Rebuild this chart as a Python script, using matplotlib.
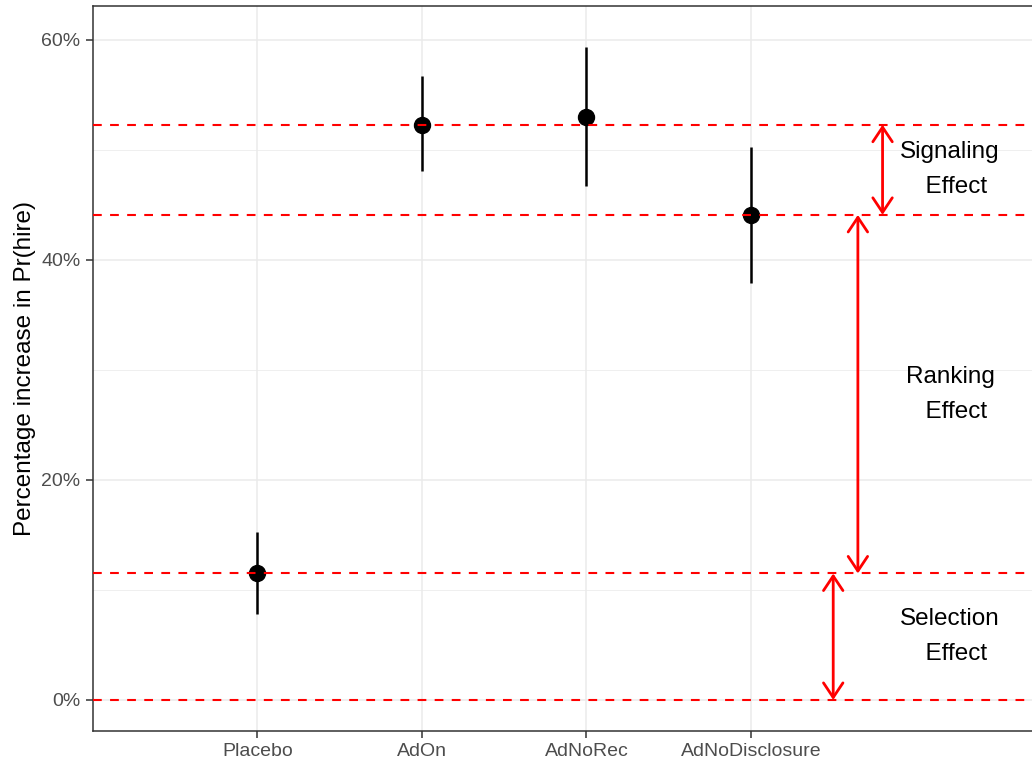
import matplotlib
matplotlib.use("Agg")
import matplotlib.pyplot as plt
import numpy as np

plt.rcParams['font.family'] = ['Liberation Sans', 'DejaVu Sans']

# Treatment arms and estimated effects (percent)
arms = ["Placebo", "AdOn", "AdNoRec", "AdNoDisclosure"]
estimate = [11.5, 52.3, 53.0, 44.1]
ci_low = [7.8, 48.1, 46.7, 37.9]
ci_high = [15.3, 56.7, 59.4, 50.3]

# Reference levels for the decomposition
ref_levels = [52.3, 44.1, 11.5, 0.0]

# Decomposition brackets: (label, x position, lower, upper)
effect_labels = ["Signaling\n  Effect", "Ranking\n  Effect", "Selection\n  Effect"]
effect_x = [4.8, 4.65, 4.5]
effect_low = [44.1, 11.5, 0.0]
effect_high = [52.3, 44.1, 11.5]
label_x = 5.2

W, H = 1032, 763
fig = plt.figure(figsize=(W / 100, H / 100), dpi=100)
ax = fig.add_axes([93 / W, 32 / H, 970.5 / W, 725 / H])

xpos = np.arange(1, len(arms) + 1)

# Grid
for y in [10, 30, 50]:
    ax.axhline(y, color="#EBEBEB", lw=0.55, zorder=0)
for y in [0, 20, 40, 60]:
    ax.axhline(y, color="#EBEBEB", lw=1.1, zorder=0)
for x in xpos:
    ax.axvline(x, color="#EBEBEB", lw=1.1, zorder=0)

# Point estimates with confidence intervals
ax.vlines(xpos, ci_low, ci_high, color="black", lw=1.8, zorder=2)
ax.plot(xpos, estimate, "o", color="black", ms=11.5, zorder=3)

# Reference lines
for y in ref_levels:
    ax.axhline(y, color="#FF0000", lw=1.5, ls=(0, (4.2, 4.0)), zorder=4)

# Decomposition arrows and labels
for lab, x, lo, hi in zip(effect_labels, effect_x, effect_low, effect_high):
    ax.annotate("", xy=(x, lo), xytext=(x, hi),
                arrowprops=dict(arrowstyle="<->,head_length=10.5,head_width=7",
                                color="#FF0000", lw=2.0, shrinkA=0, shrinkB=0,
                                mutation_scale=1),
                zorder=5)
    ax.text(label_x + 0.01, (lo + hi) / 2, lab, ha="center", va="center",
            fontsize=17.5, color="black", linespacing=1.75, zorder=6)

ax.set_xlim(0, 5.9)
ax.set_ylim(-2.82, 63.09)
ax.set_xticks(xpos)
ax.set_xticklabels(arms)
ax.set_yticks([0, 20, 40, 60])
ax.set_yticklabels(["0%", "20%", "40%", "60%"])
ax.tick_params(axis="both", length=5, width=1.1, color="#333333",
               labelsize=14, labelcolor="#4D4D4D", pad=4)
ax.set_ylabel("Percentage increase in Pr(hire)", fontsize=17.5, labelpad=4)

for s in ax.spines.values():
    s.set_color("#333333")
    s.set_linewidth(1.1)

fig.savefig("out.png", dpi=100)
